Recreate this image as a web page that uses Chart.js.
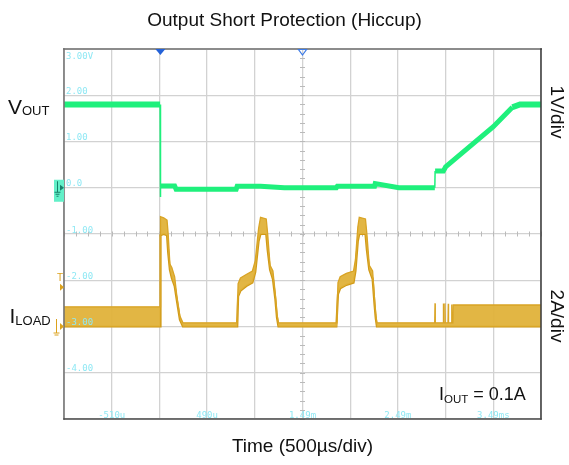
<!DOCTYPE html>
<html>
<head>
<meta charset="utf-8">
<script src="https://cdn.jsdelivr.net/npm/chart.js@4.4.1/dist/chart.umd.min.js"></script>
<style>
  html, body { margin: 0; padding: 0; background: #ffffff; }
  #wrap { width: 569px; height: 465px; position: relative; }
</style>
</head>
<body>
<div id="wrap"><canvas id="scope" width="569" height="465"></canvas></div>
<script>
// Time base in µs: 500 µs/div over 10 divisions
const timeMin = -1010;
const timeMax = 3990;
const timeStep = 500;
// Vertical screen in divisions; VOUT is 1 V/div with its ground at 0 div
const divMin = -5;
const divMax = 3;
// ILOAD channel: 2 A/div, ground at -3 div
const ampsPerDiv = 2;
const currentGroundDiv = -3;

// Graticule readouts
const timeTickValues = [-510, 490, 1490, 2490, 3490];
const timeTickLabels = ['-510u', '490u', '1.49m', '2.49m', '3.49ms'];
const divTickValues = [3, 2, 1, 0, -1, -2, -3, -4];
const divTickLabels = ['3.00V', '2.00', '1.00', '0.0', '-1.00', '-2.00', '-3.00', '-4.00'];

// VOUT (V) against time (µs)
const voutTime  = [-1010, -3, 0, 3, 150, 165, 795, 805, 1050, 1300, 1845, 1855, 2245, 2252, 2500, 2877, 2880, 2966, 2990, 3490, 3690, 3770, 3990];
const voutVolts = [1.8, 1.8, -0.2, 0.04, 0.04, -0.03, -0.03, 0.03, 0.03, 0.0, 0.0, 0.03, 0.03, 0.09, 0.0, 0.0, 0.36, 0.36, 0.45, 1.32, 1.74, 1.8, 1.8];

// ILOAD (A): upper and lower edge of the switching-ripple envelope
const iloadTime = [-1010, -3, 0, 3, 35, 70, 82, 100, 120, 150, 172, 205, 237,
  800, 806, 815, 840, 900, 965, 995, 1030, 1050, 1110, 1125, 1150, 1180, 1205, 1222, 1238,
  1845, 1851, 1862, 1885, 1950, 2025, 2045, 2070, 2085, 2150, 2165, 2190, 2225, 2245, 2258, 2270,
  2876, 2879, 2882, 2963, 2966, 2969, 2980, 2983, 2986, 3015, 3018, 3021, 3050, 3053, 3056, 3066, 3070, 3990];
const iloadHigh = [0.85, 0.85, 4.7, 4.75, 4.7, 4.6, 4.0, 2.7, 2.55, 2.15, 1.35, 0.45, 0.16,
  0.16, 0.5, 1.85, 2.1, 2.25, 2.4, 2.85, 4.25, 4.72, 4.65, 4.0, 2.65, 2.4, 1.4, 0.55, 0.16,
  0.16, 0.5, 1.9, 2.15, 2.3, 2.4, 2.9, 4.3, 4.72, 4.65, 4.0, 2.65, 2.4, 1.2, 0.5, 0.16,
  0.16, 1.0, 0.16, 0.16, 1.0, 0.16, 0.16, 1.0, 0.16, 0.16, 0.98, 0.16, 0.16, 0.95, 0.16, 0.16, 0.93, 0.93];
const iloadLow = [0, 0, 0, 3.95, 4.0, 3.95, 3.2, 2.45, 2.1, 1.75, 1.15, 0.3, 0,
  0, 0, 1.3, 1.55, 1.75, 1.9, 2.35, 3.7, 4.0, 4.0, 3.3, 2.45, 2.05, 1.2, 0.4, 0,
  0, 0, 1.4, 1.65, 1.8, 1.9, 2.4, 3.7, 4.0, 4.0, 3.3, 2.45, 2.05, 0.95, 0.35, 0,
  0, 0, 0, 0, 0, 0, 0, 0, 0, 0, 0, 0, 0, 0, 0, 0, 0, 0];

// Trigger settings
const triggerTime = 0;          // µs
const triggerLevelAmps = 1.7;   // A
const centerTime = 1490;        // µs, middle of the screen
const centerDiv = -1;

const GREEN = '#1ff07c';
const GOLD = '#d9a425';
const GOLD_DARK = '#d19a17';
const GOLD_FILL = 'rgba(224,178,58,0.95)';
const CYAN = '#8fe8f4';
const GRID = '#d2d2d2';
const SANS = '"Liberation Sans", Arial, sans-serif';
const MONO = '"DejaVu Sans Mono", monospace';

const toPoints = (xs, ys) => xs.map((x, i) => ({ x: x, y: ys[i] }));

function drawSub(ctx, x, y, main, sub, mainSize, subSize, subDy, rest) {
  ctx.font = mainSize + 'px ' + SANS;
  ctx.fillText(main, x, y);
  let cx = x + ctx.measureText(main).width;
  ctx.font = subSize + 'px ' + SANS;
  ctx.fillText(sub, cx, y + subDy);
  cx += ctx.measureText(sub).width;
  if (rest) {
    ctx.font = mainSize + 'px ' + SANS;
    ctx.fillText(rest, cx, y);
  }
}

const scopeDecor = {
  id: 'scopeDecor',
  beforeDatasetsDraw(chart) {
    const { ctx, scales: { x, y } } = chart;
    ctx.save();
    ctx.strokeStyle = '#bababa';
    ctx.lineWidth = 1;
    // minor ticks on the centre axes
    const cx = x.getPixelForValue(centerTime);
    for (let d = divMin; d <= divMax + 1e-9; d += 0.2) {
      const py = Math.round(y.getPixelForValue(d)) + 0.5;
      ctx.beginPath(); ctx.moveTo(cx - 2.5, py); ctx.lineTo(cx + 2.5, py); ctx.stroke();
    }
    const cy = y.getPixelForValue(centerDiv);
    for (let t = timeMin; t <= timeMax + 1e-9; t += timeStep / 4) {
      const px = Math.round(x.getPixelForValue(t)) + 0.5;
      ctx.beginPath(); ctx.moveTo(px, cy - 2.5); ctx.lineTo(px, cy + 2.5); ctx.stroke();
    }
    ctx.restore();
  },
  afterDatasetsDraw(chart) {
    const { ctx, chartArea: a, scales: { x, y, yI } } = chart;
    ctx.save();
    // graticule readouts
    ctx.fillStyle = CYAN;
    ctx.font = '9px ' + MONO;
    ctx.textAlign = 'left';
    ctx.textBaseline = 'alphabetic';
    divTickValues.forEach((v, i) => {
      const py = y.getPixelForValue(v);
      const base = (v === divMax) ? py + 10 : py - 1.5;
      ctx.fillText(divTickLabels[i], a.left + 2, base);
    });
    ctx.textAlign = 'center';
    timeTickValues.forEach((t, i) => {
      ctx.fillText(timeTickLabels[i], x.getPixelForValue(t), a.bottom - 1.5);
    });

    // frame
    ctx.lineCap = 'square';
    ctx.strokeStyle = '#8c8c8c'; ctx.lineWidth = 2;
    ctx.beginPath(); ctx.moveTo(a.left, a.top); ctx.lineTo(a.right, a.top); ctx.stroke();
    ctx.strokeStyle = '#707070'; ctx.lineWidth = 1.5;
    ctx.beginPath(); ctx.moveTo(a.left, a.top); ctx.lineTo(a.left, a.bottom); ctx.stroke();
    ctx.strokeStyle = '#3a3a3a';
    ctx.beginPath(); ctx.moveTo(a.right, a.top); ctx.lineTo(a.right, a.bottom); ctx.stroke();
    ctx.strokeStyle = '#4a4a4a';
    ctx.beginPath(); ctx.moveTo(a.left, a.bottom); ctx.lineTo(a.right, a.bottom); ctx.stroke();

    // trigger position markers on the top edge
    const tx = x.getPixelForValue(triggerTime);
    ctx.fillStyle = '#2462d8';
    ctx.beginPath(); ctx.moveTo(tx - 5, a.top); ctx.lineTo(tx + 5, a.top); ctx.lineTo(tx, a.top + 6); ctx.closePath(); ctx.fill();
    const mx = x.getPixelForValue(centerTime);
    ctx.strokeStyle = '#3d7be6'; ctx.lineWidth = 1.2;
    ctx.beginPath(); ctx.moveTo(mx - 4, a.top + 0.5); ctx.lineTo(mx + 4, a.top + 0.5); ctx.lineTo(mx, a.top + 6); ctx.closePath(); ctx.stroke();

    // VOUT ground marker
    const g1 = y.getPixelForValue(0);
    ctx.fillStyle = '#62f0c8';
    ctx.fillRect(a.left - 10, g1 - 8, 10, 22);
    ctx.fillStyle = '#17806a';
    ctx.beginPath(); ctx.moveTo(a.left - 4, g1 - 3); ctx.lineTo(a.left, g1); ctx.lineTo(a.left - 4, g1 + 3); ctx.closePath(); ctx.fill();
    ctx.strokeStyle = '#17806a'; ctx.lineWidth = 1;
    ctx.beginPath();
    ctx.moveTo(a.left - 6.5, g1 - 6); ctx.lineTo(a.left - 6.5, g1 + 4);
    ctx.moveTo(a.left - 9, g1 + 4.5); ctx.lineTo(a.left - 4, g1 + 4.5);
    ctx.moveTo(a.left - 8, g1 + 6.5); ctx.lineTo(a.left - 5, g1 + 6.5);
    ctx.moveTo(a.left - 7, g1 + 8.5); ctx.lineTo(a.left - 6, g1 + 8.5);
    ctx.stroke();

    // ILOAD trigger level and ground markers
    ctx.fillStyle = '#dca21c';
    ctx.strokeStyle = '#dca21c';
    const tl = yI.getPixelForValue(triggerLevelAmps);
    ctx.beginPath(); ctx.moveTo(a.left - 4, tl - 3.5); ctx.lineTo(a.left, tl); ctx.lineTo(a.left - 4, tl + 3.5); ctx.closePath(); ctx.fill();
    ctx.font = '10px ' + SANS; ctx.textAlign = 'center';
    ctx.fillText('T', a.left - 4, tl - 6);
    const g4 = yI.getPixelForValue(0);
    ctx.beginPath(); ctx.moveTo(a.left - 4, g4 - 3.5); ctx.lineTo(a.left, g4); ctx.lineTo(a.left - 4, g4 + 3.5); ctx.closePath(); ctx.fill();
    ctx.lineWidth = 1;
    ctx.beginPath();
    ctx.moveTo(a.left - 7.5, g4 - 7); ctx.lineTo(a.left - 7.5, g4 + 6);
    ctx.moveTo(a.left - 10, g4 + 6.5); ctx.lineTo(a.left - 5, g4 + 6.5);
    ctx.moveTo(a.left - 9, g4 + 8.5); ctx.lineTo(a.left - 6, g4 + 8.5);
    ctx.stroke();

    // load current annotation
    ctx.fillStyle = '#111111';
    ctx.textAlign = 'left';
    ctx.textBaseline = 'alphabetic';
    drawSub(ctx, 439, 400, 'I', 'OUT', 18, 11.5, 3, ' = 0.1A');
    ctx.restore();
  },
  afterDraw(chart) {
    const { ctx } = chart;
    ctx.save();
    ctx.fillStyle = '#111111';
    ctx.textAlign = 'left';
    ctx.textBaseline = 'alphabetic';
    drawSub(ctx, 8, 114, 'V', 'OUT', 21, 13, 1);
    drawSub(ctx, 9.5, 323, 'I', 'LOAD', 21, 13, 2);
    ctx.font = '19px ' + SANS;
    ctx.textAlign = 'center';
    ctx.textBaseline = 'middle';
    [['1V/div', 112], ['2A/div', 316]].forEach(([txt, cy]) => {
      ctx.save();
      ctx.translate(556, cy);
      ctx.rotate(Math.PI / 2);
      ctx.fillText(txt, 0, 0);
      ctx.restore();
    });
    ctx.restore();
  }
};

Chart.defaults.font.family = SANS;

new Chart(document.getElementById('scope'), {
  type: 'line',
  data: {
    datasets: [
      {
        label: 'VOUT',
        data: toPoints(voutTime, voutVolts),
        yAxisID: 'y',
        borderColor: GREEN,
        borderWidth: 5,
        segment: {
          borderWidth: (c) => {
            const dx = Math.abs(c.p1.x - c.p0.x);
            const dy = Math.abs(c.p1.y - c.p0.y);
            if (dx < 2 && dy > 4) return 1.5;
            return (c.p0.parsed.y > 1.7 && c.p1.parsed.y > 1.7) ? 6 : 5;
          }
        },
        fill: false,
        pointRadius: 0,
        tension: 0
      },
      {
        label: 'ILOAD upper',
        data: toPoints(iloadTime, iloadHigh),
        yAxisID: 'yI',
        borderColor: GOLD,
        borderWidth: 1.3,
        backgroundColor: GOLD_FILL,
        fill: '+1',
        pointRadius: 0,
        tension: 0
      },
      {
        label: 'ILOAD lower',
        data: toPoints(iloadTime, iloadLow),
        yAxisID: 'yI',
        borderColor: GOLD_DARK,
        borderWidth: 2.2,
        fill: false,
        pointRadius: 0,
        tension: 0
      }
    ]
  },
  options: {
    responsive: false,
    animation: false,
    devicePixelRatio: 1,
    layout: { padding: 0 },
    plugins: {
      legend: { display: false },
      tooltip: { enabled: false },
      title: {
        display: true,
        text: 'Output Short Protection (Hiccup)',
        color: '#111111',
        font: { family: SANS, size: 19, weight: 'normal' },
        padding: { top: 9, bottom: 17.2 }
      }
    },
    scales: {
      x: {
        type: 'linear',
        min: timeMin,
        max: timeMax,
        ticks: { display: false, stepSize: timeStep },
        grid: { color: GRID, lineWidth: 1.3, drawTicks: false },
        border: { display: false },
        title: {
          display: true,
          text: 'Time (500µs/div)',
          color: '#111111',
          font: { family: SANS, size: 19 },
          padding: { top: 0, bottom: 6.6 }
        },
        afterFit: (s) => { s.height = 46; }
      },
      y: {
        position: 'left',
        min: divMin,
        max: divMax,
        ticks: { display: false, stepSize: 1 },
        grid: { color: GRID, lineWidth: 1.3, drawTicks: false },
        border: { display: false },
        afterFit: (s) => { s.width = 64; }
      },
      yI: {
        position: 'right',
        min: (divMin - currentGroundDiv) * ampsPerDiv,
        max: (divMax - currentGroundDiv) * ampsPerDiv,
        ticks: { display: false },
        grid: { display: false, drawTicks: false },
        border: { display: false },
        afterFit: (s) => { s.width = 28; }
      }
    }
  },
  plugins: [scopeDecor]
});
</script>
</body>
</html>
